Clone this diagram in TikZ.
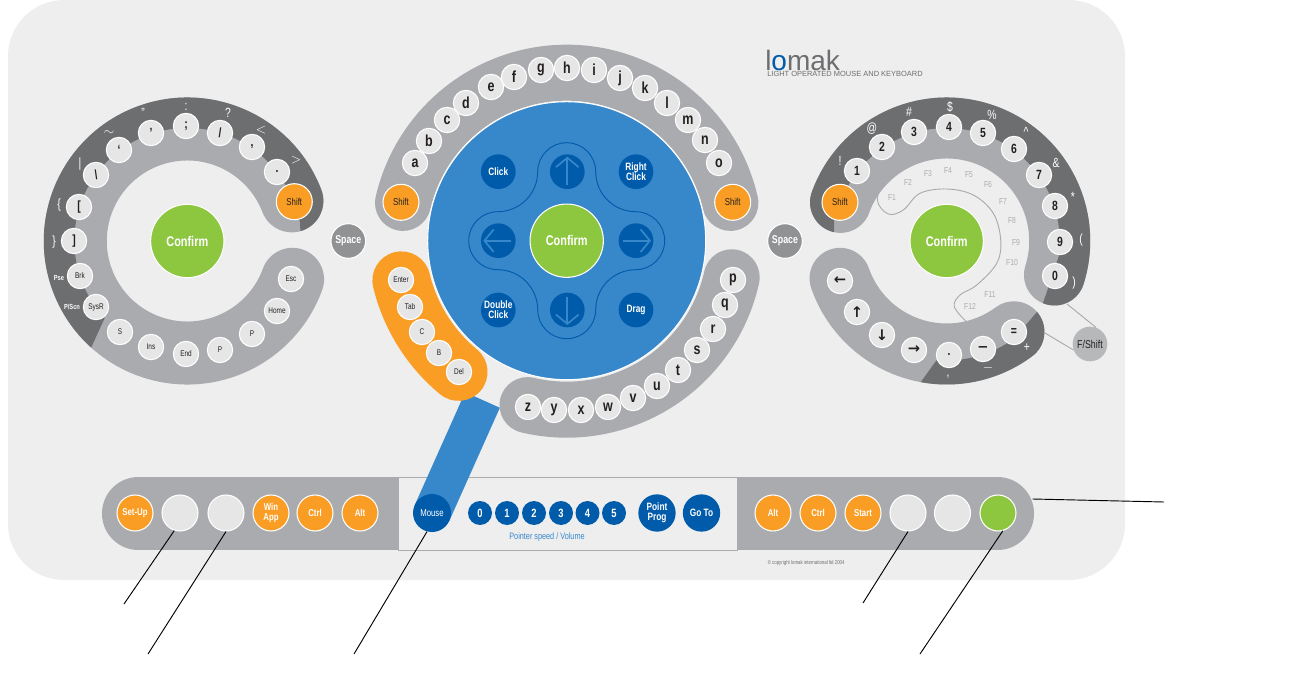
\documentclass[tikz,border=0pt]{standalone}
\usepackage{fontspec}
\setmainfont[FakeStretch=0.78]{Liberation Sans}
\newfontfamily\plainfont{Liberation Sans}
\newfontfamily\symfont{DejaVu Sans}
\usepackage{tikz}
\usetikzlibrary{arrows.meta,positioning,calc}
\definecolor{PanelGrey}{RGB}{238,238,238}
\definecolor{BandGrey}{RGB}{169,171,174}
\definecolor{BandDark}{RGB}{109,110,112}
\definecolor{KeyGrey}{RGB}{230,230,230}
\definecolor{InkDark}{RGB}{35,31,32}
\definecolor{PadBlue}{RGB}{55,135,203}
\definecolor{BtnBlue}{RGB}{0,91,170}
\definecolor{KeyOrange}{RGB}{249,157,37}
\definecolor{OkGreen}{RGB}{141,198,63}
\tikzset{
  key/.style={circle,draw=white,line width=.8pt,fill=KeyGrey,minimum size=19pt,inner sep=0pt,text=InkDark,font=\fontsize{6.2}{7}\selectfont},
  charkey/.style={key,font=\fontsize{12}{12}\bfseries},
  numkey/.style={key,font=\fontsize{10}{10}\bfseries},
  bigkey/.style={key,minimum size=27pt,text=white,font=\fontsize{7.5}{7.5}\bfseries},
  shiftkey/.style={bigkey,fill=KeyOrange,text=InkDark,font=\fontsize{7.5}{7.5}\selectfont},
  barkey/.style={bigkey,fill=KeyOrange},
  padkey/.style={circle,fill=BtnBlue,minimum size=26pt,inner sep=0pt,text=white,font=\fontsize{8}{7.5}\bfseries,align=center},
  speedkey/.style={padkey,minimum size=18pt,font=\fontsize{9}{9}\bfseries},
  confirm/.style={circle,draw=white,line width=.8pt,fill=OkGreen,minimum size=55pt,inner sep=0pt,text=white,font=\fontsize{10.5}{10.5}\bfseries},
  spacekey/.style={circle,draw=white,line width=.8pt,fill=BandDark!75!white,minimum size=26pt,inner sep=0pt,text=white,font=\fontsize{8.5}{8.5}\bfseries},
  upper/.style={text=white,inner sep=0pt,font=\fontsize{10}{10}\selectfont},
  ftext/.style={text=BandGrey,inner sep=0pt,font=\fontsize{6.5}{6.5}\selectfont},
  padarrow/.style={PadBlue,line width=1.3pt,-{Straight Barb[length=7pt,width=17pt]}},
  leader/.style={black,line width=.7pt},
}
% band with round ends: cx, cy, radius, half width, from angle, to angle
\newcommand{\bandpath}[6]{(#1,-#2) ++(#5:{#3+#4}) arc ({#5}:{#6}:{#3+#4}) arc ({#6}:{#6+180}:#4) arc ({#6}:{#5}:{#3-#4}) arc ({#5+180}:{#5+360}:#4) -- cycle}

\begin{document}
\begin{tikzpicture}[x=.75pt,y=.75pt]
  \useasboundingbox (0,0) rectangle (1304,-688);
  \fill[PanelGrey,rounded corners=42pt] (8,0) rectangle (1125,-580);

  % left dial
  \fill[BandGrey] \bandpath{187.3}{241}{112}{31.5}{21}{340};
  \begin{scope}
    \clip \bandpath{187.3}{241}{112}{31.5}{21}{340};
    \fill[BandDark] (104.7,-318) arc (223:21:113) -- (300,-222) -- (300.7,-240) -- (400,-240) -- (400,-40) -- (30,-40) -- (30,-372) -- (80,-372) -- cycle;
  \end{scope}
  \node[confirm] (lconfirm) at (187.3,-241) {Confirm};
  \node[shiftkey] (lshift) at (294.3,-201.7) {Shift};
  \node[spacekey] (lspace) at (348.3,-241) {Space};
  \foreach \x/\y/\t [count=\i] in {277/172/{.},252/147/{,},220/133/{/},186/126/{;},151/133/{'},119/150/{`},96/175/{\textbackslash},79/207/{[},74/241/{]}}
    \node[key,font=\fontsize{10}{10}\bfseries] (lk\i) at (\x,-\y) {\t};
  \foreach \x/\y/\t [count=\i] in {80/276/Brk,96/307/SysR,120/332/S/Lk,151/347/Ins,186/354/End,220/350/P/Dn,252/334/P/Up,277/311/Home,291/279/Esc}
    \node[key] (lc\i) at (\x,-\y) {\t};
  \foreach \x/\y/\t [count=\i] in {109/133/{$\sim$},143/113/{"},186/107/{:},228/113/{?},261/130/{$<$},296/160/{$>$},80/164/{|},59/205/{\{},54/242/{\}}}
    \node[upper] (ls\i) at (\x,-\y) {\t};
  \node[upper,font=\fontsize{5.5}{5.5}\bfseries] (lpse) at (59,-278) {Pse};
  \node[upper,font=\fontsize{5.5}{5.5}\bfseries] (lscn) at (72,-307) {P/Scn};

  % bottom bar
  \draw[BandGrey,line width=54.8pt,line cap=round] (138.5,-513.5) -- (997.5,-513.5);
  \fill[PanelGrey,draw=BandGrey,line width=.7pt] (398,-477) rectangle (737,-550);

  % centre pad
  \draw[PadBlue,line width=28.5pt] (482.5,-400) -- (432,-513);
  \draw[KeyOrange,line width=43.5pt,line cap=round] (566.7,-240.7) ++(193.5:170) arc (193.5:230.5:170);
  \fill[BandGrey] \bandpath{566.7}{240.7}{168}{28}{13}{167};
  \fill[BandGrey] \bandpath{566.7}{240.7}{169}{28}{-103.4}{-12.5};
  \fill[PadBlue,draw=white,line width=.8pt] (566.7,-240.7) circle (139);
  \draw[BtnBlue,line width=.7pt] (537.7,-171.7) arc (180:0:29) arc (180:270:40) arc (90:-90:29) arc (90:180:40) arc (0:-180:29) arc (0:90:40) arc (-90:-270:29) arc (-90:0:40) -- cycle;
  \node[confirm] (pconfirm) at (566.7,-240.7) {Confirm};
  \node[padkey] (click) at (498.3,-171.7) {Click};
  \node[padkey] (rclick) at (636,-171.7) {Right\\Click};
  \node[padkey] (dclick) at (498.3,-310) {Double\\Click};
  \node[padkey] (drag) at (636,-310) {Drag};
  \node[padkey] (pup) at (567.3,-171.7) {};
  \node[padkey] (pleft) at (498.3,-240.7) {};
  \node[padkey] (pright) at (636,-240.7) {};
  \node[padkey] (pdown) at (567.3,-310) {};
  \draw[padarrow] ($(pup)+(0,-13)$) -- ($(pup)+(0,15)$);
  \draw[padarrow] ($(pdown)+(0,13)$) -- ($(pdown)+(0,-15)$);
  \draw[padarrow] ($(pleft)+(13,0)$) -- ($(pleft)+(-15,0)$);
  \draw[padarrow] ($(pright)+(-13,0)$) -- ($(pright)+(15,0)$);
  \node[shiftkey] (pshiftl) at (401,-202.3) {Shift};
  \node[shiftkey] (pshiftr) at (732.7,-202.3) {Shift};
  \foreach \x/\y/\t [count=\i] in {415/163/a,429/141/b,447/120/c,466/103/d,491/87/e,514/77/f,541/70/g,567/68/h,594/70/i,620/78/j,645/88/k,667/103/l,688/120/m,705/140/n,719/163/o,733/280/p,725/305/q,713/329/r,697/350/s,678/370/t,657/386/u,633/398/v,608/407/w,581/410/x,554/410/y,528/407/z}
    \node[charkey] (ck\i) at (\x,-\y) {\t};
  \foreach \x/\y/\t [count=\i] in {401/280/Enter,410/307/Tab,422/332/C/Lk,439/353/B/Sp,459/372/Del}
    \node[key] (ok\i) at (\x,-\y) {\t};

  % right dial
  \fill[BandGrey] \bandpath{946.7}{241}{113}{30.5}{-17.5}{160};
  \fill[BandGrey] \bandpath{946.7}{241}{113}{30.5}{199.3}{306.5};
  \begin{scope}
    \clip \bandpath{946.7}{241}{113}{30.5}{-17.5}{160};
    \fill[BandDark] (840.5,-202.4) arc (160:-8:113) -- (1036,-324) -- (1150,-324) -- (1150,-40) -- (800,-40) -- (800,-240) -- (834,-240) -- (834,-210) -- cycle;
  \end{scope}
  \begin{scope}
    \clip \bandpath{946.7}{241}{113}{30.5}{199.3}{306.5};
    \fill[BandDark] (936.7,-360) arc (265:306:115) -- (1060,-285) -- (1060,-420) -- (910,-420) -- (910,-397) -- cycle;
  \end{scope}
  \draw[BandGrey,line width=.7pt] plot[smooth,tension=.6] coordinates {(966.7,-322) (954.3,-306.7) (960,-295) (976.7,-285) (996.7,-263.3) (1000.7,-240) (993.3,-213.3) (973.3,-195) (946.7,-189) (920,-193.3) (903.3,-210) (888.3,-214) (877.3,-200) (885,-176.7)};
  \node[confirm] (rconfirm) at (946.7,-241) {Confirm};
  \node[shiftkey] (rshift) at (840,-202.3) {Shift};
  \node[spacekey] (rspace) at (785,-241) {Space};
  \node[circle,fill=BandGrey!85!white,minimum size=26pt,inner sep=0pt,text=InkDark,font=\fontsize{8.5}{8.5}\selectfont] (fshift) at (1090,-344) {F/Shift};
  \coordinate (fa) at (1067,-304);
  \coordinate (fb) at (1045,-333);
  \draw[BandGrey,line width=.7pt] (fa) -- (fshift.70);
  \draw[BandGrey,line width=.7pt] (fb) -- (fshift.200);
  \foreach \x/\y/\t [count=\i] in {857/171/1,882/147/2,914/132/3,949/127/4,983/133/5,1014/149/6,1039/175/7,1055/206/8,1060/242/9,1055/276/0,949/355/{.},983/349/{\symfont\bfseries −},1014/332/=}
    \node[numkey] (rk\i) at (\x,-\y) {\t};
  \foreach \x/\y/\t [count=\i] in {840/281/←,857/312/↑,882/335/↓,914/350/→}
    \node[numkey,font=\symfont\fontsize{11}{11}\bfseries] (ra\i) at (\x,-\y) {\t};
  \foreach \x/\y/\t [count=\i] in {840/161/!,872/129/@,909/112/\#,950/107/\$,992/115/\%,1026/132/\^{},1056/163/\&,1073/197/*,1081/240/(,1074/283/),948/377/{,},988/368/{$-$},1027/348/+}
    \node[upper] (rs\i) at (\x,-\y) {\t};
  \foreach \x/\y/\t [count=\i] in {892/198/F1,908/182/F2,928/174/F3,948/171/F4,969/175/F5,988/185/F6,1003/202/F7,1012/221/F8,1016/243/F9,1012/263/F10,990/295/F11,970/306/F12}
    \node[ftext] (fk\i) at (\x,-\y) {\t};

  % bottom bar keys
  \node[barkey] (setup) at (135,-513) {Set-Up};
  \node[bigkey] (blank1) at (180,-513) {};
  \node[bigkey] (blank2) at (226,-513) {};
  \node[barkey,align=center] (winapp) at (271,-513) {Win\\App};
  \node[barkey] (lctrl) at (315,-513) {Ctrl};
  \node[barkey] (lalt) at (360,-513) {Alt};
  \node[padkey,minimum size=28.5pt,font=\fontsize{7.5}{7.5}\selectfont] (mouse) at (432,-513) {Mouse};
  \foreach \x [count=\i from 0] in {480,507,534,561,587.5,614}
    \node[speedkey] (sp\i) at (\x,-513) {\i};
  \node[inner sep=0pt,text=PadBlue,font=\fontsize{7}{7}\selectfont] (speed) at (547,-537.5) {Pointer speed / Volume};
  \node[padkey,minimum size=28pt] (prog) at (657,-513) {Point\\Prog};
  \node[padkey,minimum size=28pt] (goto) at (701.5,-513) {Go To};
  \node[barkey] (ralt) at (773,-513) {Alt};
  \node[barkey] (rctrl) at (818,-513) {Ctrl};
  \node[barkey] (start) at (863,-513) {Start};
  \node[bigkey] (blank3) at (908,-513) {};
  \node[bigkey] (blank4) at (952.5,-513) {};
  \node[bigkey,fill=OkGreen] (power) at (998,-513) {};
  \coordinate (barend) at (1032.5,-499);

  % logo and small print
  \node[anchor=west,inner sep=0pt,text=BandDark,font=\plainfont\fontsize{21}{21}\selectfont] (logo) at (765,-60) {l\textcolor{BtnBlue}{o}mak};
  \node[anchor=west,inner sep=0pt,text=BandDark,font=\plainfont\fontsize{5.6}{5.6}\selectfont] (slogan) at (767,-73.5) {LIGHT OPERATED MOUSE AND KEYBOARD};
  \node[anchor=west,inner sep=0pt,text=BandDark,font=\fontsize{4.2}{4.2}\selectfont] (copy) at (767.5,-563) {© copyright lomak international ltd 2004};

  % leader lines
  \coordinate (e1) at (124,-604);
  \coordinate (e2) at (148,-654);
  \coordinate (e3) at (354,-654);
  \coordinate (e4) at (863,-603);
  \coordinate (e5) at (920,-654);
  \coordinate (e6) at (1164,-502);
  \draw[leader] (blank1.-108) -- (e1);
  \draw[leader] (blank2.-90) -- (e2);
  \draw[leader] (mouse.-105) -- (e3);
  \draw[leader] (blank3.-90) -- (e4);
  \draw[leader] (power.-75) -- (e5);
  \draw[leader] (barend) -- (e6);
\end{tikzpicture}
\end{document}
